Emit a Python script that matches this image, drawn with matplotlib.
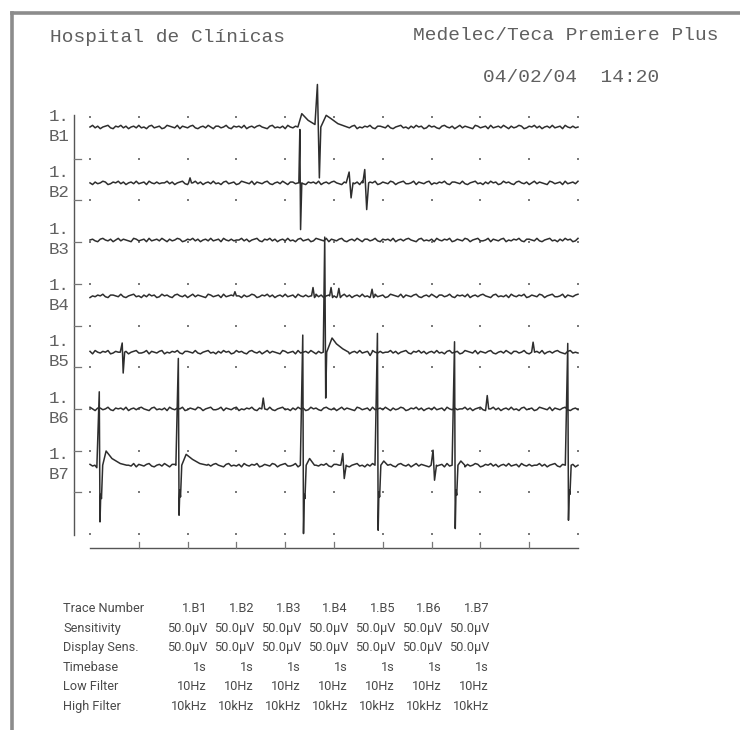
import numpy as np
import matplotlib
matplotlib.use('Agg')
import matplotlib.pyplot as plt
from matplotlib.lines import Line2D

# trace names and baseline positions (divisions from the bottom of the grid)
trace_names = ['B1', 'B2', 'B3', 'B4', 'B5', 'B6', 'B7']
baselines = [9.76, 8.42, 7.05, 5.71, 4.36, 3.00, 1.65]
noise_shift = [0, 29, 58, 87, 116, 145, 174]

# baseline wiggle (uV), shared by all traces
noise_uv = [0, 2, -1, 1, -2, 0, 1, 2, -1, -2, 1, 0, 2, -1, 1, -2, 0, 1, -1, 2,
	-1, 0, -2, 1, 2, -1, 0, 1, -2, -1, 2, 1, 0, -1, 2, -2, 1, 0, -1, 1,
	2, -1, -2, 0, 1, -1, 2, 0, -2, 1, 1, -1, 0, 2, -1, -2, 1, 0, 1, -1,
	2, -2, 0, 1, -1, 1, 2, 0, -1, -2, 1, 2, -1, 0, -1, 1, -2, 2, 0, -1,
	1, 0, 2, -2, -1, 1, 0, -1, 2, 1, -2, 0, 1, 2, -1, -1, 0, 2, -2, 1,
	0, -1, 1, 2, -2, 0, -1, 1, 0, 2, -1, -2, 1, 1, 0, -1, 2, -1, -2, 0,
	1, 2, -1, 0, -2, 1, -1, 2, 0, 1, -2, -1, 2, 0, 1, -1, -2, 1, 2, 0,
	-1, 1, -2, 0, 2, -1, 1, 0, -1, -2, 2, 1, -1, 0, 1, -2, 2, -1, 0, 1,
	-1, 2, 0, -2, 1, -1, 0, 2, 1, -2, -1, 1, 0, 2, -1, 1, -2, 0, 1, -1,
	2, -1, 0, 1, -2, 2, 0, -1, 1, -1, 0]

# potentials: (time s, amplitude uV) vertices for each event
B1_events = [
	[(4.26, 0), (4.34, 16), (4.47, 8), (4.61, 3), (4.66, 51), (4.70, -61), (4.73, 0),
	 (4.84, 14), (4.94, 10), (5.08, 4), (5.27, 0)],
]
B2_events = [
	[(2.02, 0), (2.05, 6), (2.08, 0)],
	[(4.28, 0), (4.30, 64), (4.315, -56), (4.34, 0)],
	[(5.25, 0), (5.31, 13), (5.35, -18), (5.39, 0)],
	[(5.59, 0), (5.63, 16), (5.67, -32), (5.71, 0)],
]
B3_events = []
B4_events = [
	[(2.94, 0), (2.97, 5), (3.00, 0)],
	[(4.54, 0), (4.57, 10), (4.60, -2), (4.63, 0)],
	[(4.91, 0), (4.94, 10), (4.97, -2), (5.00, 0)],
	[(5.07, 0), (5.10, 9), (5.13, -2), (5.16, 0)],
	[(5.75, 0), (5.78, 8), (5.81, -2), (5.84, 0)],
]
B5_events = [
	[(0.62, 0), (0.66, 11), (0.68, -25), (0.71, 0)],
	[(4.78, 0), (4.81, 138), (4.83, -55), (4.85, 0), (4.96, 17), (5.05, 10),
	 (5.18, 4), (5.30, 0)],
	[(5.70, 0), (5.74, -4), (5.78, 0)],
	[(9.05, 0), (9.08, 12), (9.11, 0)],
]
B6_events = [
	[(3.52, 0), (3.55, 13), (3.58, 0)],
	[(8.11, 0), (8.14, 16), (8.17, 0)],
]
B7_events = [
	[(0.10, 0), (0.14, -3), (0.19, 88), (0.205, -68), (0.22, -35), (0.235, -40),
	 (0.26, 0), (0.33, 17), (0.45, 8), (0.62, 2), (0.75, 0)],
	[(1.76, 0), (1.81, 128), (1.825, -60), (1.84, -30), (1.855, -38), (1.88, 0),
	 (1.97, 13), (2.10, 7), (2.25, 2), (2.40, 0)],
	[(4.31, 0), (4.36, 156), (4.375, -82), (4.39, -35), (4.405, -40), (4.43, 0),
	 (4.50, 8), (4.60, 0)],
	[(5.14, 0), (5.18, 14), (5.21, -16), (5.25, 0)],
	[(5.84, 0), (5.89, 158), (5.905, -78), (5.92, -32), (5.935, -38), (5.96, 0),
	 (6.02, 5), (6.10, 0)],
	[(6.99, 0), (7.03, 18), (7.06, -18), (7.10, 0)],
	[(7.42, 0), (7.47, 148), (7.485, -76), (7.50, -30), (7.515, -36), (7.54, 0),
	 (7.60, 5), (7.68, 0)],
	[(9.74, 0), (9.79, 146), (9.805, -66), (9.82, -30), (9.835, -35), (9.86, 0)],
]
all_events = [B1_events, B2_events, B3_events, B4_events, B5_events, B6_events, B7_events]

# settings table
row_labels = ['Trace Number', 'Sensitivity', 'Display Sens.', 'Timebase', 'Low Filter', 'High Filter']
trace_numbers = ['1.B1', '1.B2', '1.B3', '1.B4', '1.B5', '1.B6', '1.B7']
sensitivity = ['50.0µV', '50.0µV', '50.0µV', '50.0µV', '50.0µV', '50.0µV', '50.0µV']
display_sens = ['50.0µV', '50.0µV', '50.0µV', '50.0µV', '50.0µV', '50.0µV', '50.0µV']
timebase = ['1s', '1s', '1s', '1s', '1s', '1s', '1s']
low_filter = ['10Hz', '10Hz', '10Hz', '10Hz', '10Hz', '10Hz', '10Hz']
high_filter = ['10kHz', '10kHz', '10kHz', '10kHz', '10kHz', '10kHz', '10kHz']

UV_PER_DIV = 50.0
W, H = 740, 730
INK = '#2e2e2e'
TXT = '#606060'


def build_trace(shift, events):
	t = np.linspace(0, 10, len(noise_uv))
	v = np.roll(np.array(noise_uv, dtype=float), shift)
	keep = np.ones(len(t), dtype=bool)
	for ev in events:
		ts = [p[0] for p in ev]
		keep &= ~((t >= min(ts)) & (t <= max(ts)))
	pts = list(zip(t[keep], v[keep]))
	for ev in events:
		pts += ev
	pts.sort(key=lambda p: p[0])
	pts = np.array(pts)
	return pts[:, 0], pts[:, 1]


def fx(px):
	return px / W


def fy(py):
	return 1 - py / H


def main():
	fig = plt.figure(figsize=(W / 100, H / 100), dpi=100)
	fig.patch.set_facecolor('white')

	# scanned page border
	fig.add_artist(Line2D([fx(12), fx(740)], [fy(13), fy(13)], color='#8c8c8c', lw=2.6))
	fig.add_artist(Line2D([fx(12), fx(12)], [fy(13), fy(730)], color='#8c8c8c', lw=2.6))

	# header
	mono = ['Liberation Mono', 'DejaVu Sans Mono']
	fig.text(fx(50), fy(38), 'Hospital de Clínicas', family=mono, fontsize=14, color=TXT, va='center')
	fig.text(fx(413), fy(36), 'Medelec/Teca Premiere Plus', family=mono, fontsize=14, color=TXT, va='center')
	fig.text(fx(483), fy(77), '04/02/04  14:20', family=mono, fontsize=14, color=TXT, va='center')

	ax = fig.add_axes([fx(90), fy(534), 488 / W, 417 / H])
	ax.set_xlim(0, 10)
	ax.set_ylim(0, 10)
	ax.axis('off')

	# grid dots
	gx, gy = np.meshgrid(np.arange(0, 11), np.arange(0, 11))
	ax.scatter(gx.ravel(), gy.ravel(), s=2.0, color='#7a7a7a', marker='s', lw=0, clip_on=False)

	# left axis with row ticks
	ax.plot([-0.33, -0.33], [-0.02, 10.05], color='#555555', lw=1.0, clip_on=False)
	for d in range(1, 10):
		ax.plot([-0.33, -0.18], [d, d], color='#777777', lw=0.9, clip_on=False)
	# bottom time axis
	ax.plot([0, 10], [-0.34, -0.34], color='#555555', lw=1.0, clip_on=False)
	for s in range(1, 10):
		ax.plot([s, s], [-0.34, -0.2], color='#777777', lw=0.9, clip_on=False)

	# traces
	for i in range(len(trace_names)):
		t, v = build_trace(noise_shift[i], all_events[i])
		ax.plot(t, baselines[i] + v / UV_PER_DIV, color=INK, lw=1.1, clip_on=False)
		ax.text(-0.84, baselines[i] + 0.25, '1.', family=mono, fontsize=12.5, color=TXT, va='center', ha='left')
		ax.text(-0.84, baselines[i] - 0.23, trace_names[i], family=mono, fontsize=12.5, color=TXT, va='center', ha='left')

	# settings table
	narrow = ['Roboto', 'DejaVu Sans']
	table_rows = [trace_numbers, sensitivity, display_sens, timebase, low_filter, high_filter]
	row_y = [609, 628.5, 648, 667.5, 687, 706.5]
	col_x = [207, 254, 301, 348, 395, 442, 489]
	for r in range(len(row_labels)):
		fig.text(fx(63), fy(row_y[r]), row_labels[r], family=narrow, fontsize=9.2,
			color='#4a4a4a', va='center', ha='left')
		for c in range(len(col_x)):
			fig.text(fx(col_x[c]), fy(row_y[r]), table_rows[r][c], family=narrow, fontsize=9.2,
				color='#4a4a4a', va='center', ha='right')

	fig.savefig('out.png', dpi=100, facecolor='white')


main()
